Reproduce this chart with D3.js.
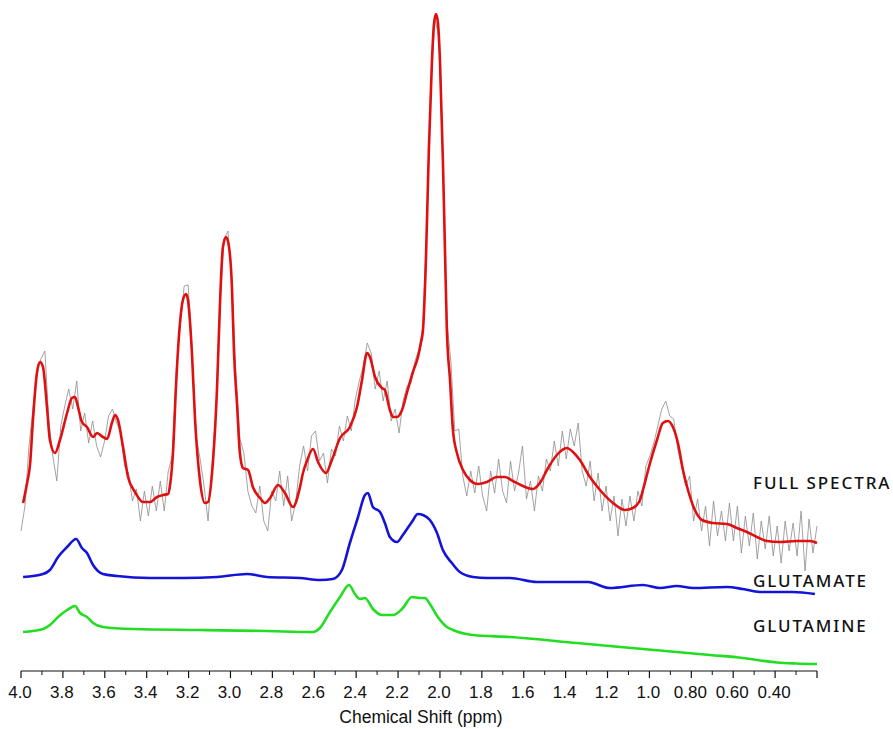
<!DOCTYPE html>
<html>
<head>
<meta charset="utf-8">
<script src="https://cdn.jsdelivr.net/npm/d3@7"></script>
<style>
  body { margin: 0; background: #fff; }
  .tick-label { font-family: "Liberation Sans", Arial, sans-serif; font-size: 17px; fill: #111; }
  .axis-title { font-family: "Liberation Sans", Arial, sans-serif; font-size: 17.5px; fill: #111; }
  .trace-label { font-family: "Noto Sans", sans-serif; font-size: 17px; font-weight: 500; letter-spacing: 1.9px; fill: #111; }
</style>
</head>
<body>
<div id="chart"></div>
<script>
// chemical shift axis
var majorTicks = [4.0, 3.8, 3.6, 3.4, 3.2, 3.0, 2.8, 2.6, 2.4, 2.2, 2.0, 1.8, 1.6, 1.4, 1.2, 1.0, 0.8, 0.6, 0.4, 0.2];
var majorLabels = ["4.0", "3.8", "3.6", "3.4", "3.2", "3.0", "2.8", "2.6", "2.4", "2.2", "2.0", "1.8", "1.6", "1.4", "1.2", "1.0", "0.80", "0.60", "0.40", ""];
var minorTicks = [3.9, 3.7, 3.5, 3.3, 3.1, 2.9, 2.7, 2.5, 2.3, 2.1, 1.9, 1.7, 1.5, 1.3, 1.1, 0.9, 0.7, 0.5, 0.3];

// fitted full spectrum [ppm, intensity]
var fullFit = [
  [3.990, 168], [3.971, 188], [3.957, 206], [3.943, 251], [3.924, 298], [3.909, 309], [3.895, 304],
  [3.876, 264], [3.862, 231], [3.838, 218], [3.814, 231], [3.780, 258], [3.757, 273], [3.742, 274],
  [3.728, 264], [3.709, 249], [3.685, 244], [3.656, 234], [3.637, 238], [3.609, 234], [3.589, 232],
  [3.566, 248], [3.551, 256], [3.537, 251], [3.513, 224], [3.489, 194], [3.456, 179], [3.418, 169],
  [3.384, 169], [3.351, 174], [3.322, 176], [3.298, 177], [3.289, 185], [3.274, 220], [3.260, 285],
  [3.246, 335], [3.227, 371], [3.212, 377], [3.203, 371], [3.184, 318], [3.169, 251], [3.146, 191],
  [3.122, 168], [3.107, 169], [3.088, 198], [3.064, 284], [3.050, 368], [3.036, 424], [3.021, 434],
  [3.007, 424], [2.993, 384], [2.983, 318], [2.969, 268], [2.955, 218], [2.940, 203], [2.916, 201],
  [2.893, 184], [2.859, 173], [2.835, 168], [2.811, 173], [2.773, 186], [2.740, 178], [2.702, 164],
  [2.668, 184], [2.654, 198], [2.635, 210], [2.606, 222], [2.582, 209], [2.544, 198], [2.516, 211],
  [2.477, 233], [2.430, 244], [2.396, 264], [2.372, 291], [2.348, 318], [2.334, 314], [2.310, 294],
  [2.277, 283], [2.263, 281], [2.239, 261], [2.224, 254], [2.205, 254], [2.181, 261], [2.158, 278],
  [2.129, 299], [2.105, 314], [2.091, 328], [2.081, 341], [2.067, 411], [2.053, 521], [2.038, 611],
  [2.029, 646], [2.019, 657], [2.010, 649], [2.000, 611], [1.986, 511], [1.976, 421], [1.967, 341],
  [1.952, 291], [1.938, 241], [1.919, 218], [1.890, 201], [1.857, 191], [1.819, 187], [1.776, 189],
  [1.728, 194], [1.690, 194], [1.652, 190], [1.604, 185], [1.556, 182], [1.523, 188], [1.484, 203],
  [1.442, 216], [1.394, 223], [1.365, 219], [1.332, 211], [1.284, 194], [1.236, 181], [1.174, 168],
  [1.117, 161], [1.079, 163], [1.045, 171], [1.031, 181], [0.997, 208], [0.964, 231], [0.936, 248],
  [0.912, 250], [0.888, 244], [0.864, 228], [0.840, 201], [0.816, 181], [0.783, 161], [0.749, 151],
  [0.697, 148], [0.630, 147], [0.582, 143], [0.535, 139], [0.487, 134], [0.439, 130], [0.377, 129],
  [0.296, 130], [0.234, 130], [0.200, 128]
];

// raw spectrum, sampled from 4.00 ppm in steps of 0.019 ppm
var rawStart = 4.0, rawStep = 0.019;
var rawSpectrum = [
  140, 165, 225, 262, 300, 312, 320, 250, 215, 190, 245, 265, 282, 262, 290, 240, 258, 228, 250, 225,
  214, 230, 255, 262, 248, 240, 205, 198, 170, 182, 150, 180, 155, 185, 160, 190, 160, 200, 215, 300,
  345, 385, 386, 320, 235, 212, 185, 150, 205, 262, 365, 432, 440, 388, 295, 232, 218, 180, 165, 158,
  185, 150, 140, 180, 170, 200, 165, 195, 150, 168, 205, 225, 200, 235, 240, 210, 218, 188, 222, 215,
  245, 230, 255, 240, 272, 290, 305, 328, 318, 282, 300, 270, 290, 250, 262, 238, 270, 285, 288, 310,
  322, 345, 450, 582, 652, 634, 514, 350, 310, 240, 242, 195, 175, 200, 178, 205, 175, 160, 200, 178,
  212, 180, 168, 210, 180, 198, 225, 172, 190, 160, 195, 180, 212, 200, 230, 205, 240, 212, 242, 225,
  248, 200, 185, 210, 170, 198, 160, 185, 150, 175, 135, 172, 145, 175, 150, 180, 165, 205, 215, 228,
  245, 262, 270, 255, 252, 222, 205, 185, 195, 150, 172, 140, 165, 125, 170, 135, 160, 130, 168, 130,
  165, 118, 155, 125, 158, 112, 150, 122, 155, 115, 145, 108, 150, 120, 148, 115, 160, 100, 152, 118,
  145
];

// glutamate component [ppm, intensity]
var glutamate = [
  [3.990, 94], [3.895, 97], [3.862, 101], [3.823, 114], [3.780, 124], [3.737, 132], [3.709, 123],
  [3.685, 118], [3.656, 106], [3.609, 97], [3.542, 95], [3.384, 93], [3.227, 93], [3.064, 94],
  [2.921, 97], [2.826, 94], [2.668, 93], [2.573, 91], [2.511, 92], [2.468, 101], [2.430, 128],
  [2.391, 154], [2.358, 176], [2.344, 178], [2.320, 164], [2.286, 159], [2.263, 148], [2.239, 134],
  [2.205, 129], [2.177, 136], [2.134, 149], [2.105, 157], [2.081, 156], [2.048, 151], [2.014, 138],
  [1.986, 121], [1.943, 108], [1.905, 99], [1.842, 94], [1.776, 93], [1.666, 93], [1.537, 89],
  [1.290, 89], [1.270, 88], [1.189, 83], [1.031, 86], [0.950, 83], [0.869, 85], [0.792, 83],
  [0.630, 84], [0.554, 82], [0.473, 79], [0.315, 79], [0.210, 77]
];

// glutamine component [ppm, intensity]
var glutamine = [
  [3.990, 39], [3.895, 42], [3.862, 46], [3.823, 54], [3.780, 61], [3.742, 65], [3.718, 58],
  [3.685, 54], [3.656, 48], [3.609, 44], [3.465, 42], [3.146, 41], [2.826, 40], [2.606, 39],
  [2.573, 43], [2.525, 59], [2.477, 74], [2.434, 86], [2.406, 77], [2.382, 72], [2.358, 73],
  [2.320, 62], [2.277, 56], [2.224, 56], [2.177, 63], [2.134, 74], [2.096, 73], [2.072, 73],
  [2.048, 67], [2.010, 54], [1.967, 44], [1.938, 41], [1.842, 36], [1.666, 34], [1.346, 28],
  [1.031, 22], [0.711, 16], [0.554, 13], [0.470, 10.5], [0.391, 8.5], [0.300, 7.5], [0.200, 7]
];

var traceNames = ["FULL SPECTRA", "GLUTAMATE", "GLUTAMINE"];
var traceLabelLevel = [182, 84, 39];

var width = 893, height = 729;

var svg = d3.select("#chart").append("svg")
    .attr("width", width)
    .attr("height", height);

var x = d3.scaleLinear().domain([4.0, 0.2]).range([21, 817]);
var y = d3.scaleLinear().domain([0, 660]).range([671, 11]);

var line = d3.line()
    .x(function(d) { return x(d[0]); })
    .y(function(d) { return y(d[1]); })
    .curve(d3.curveMonotoneX);

var rawLine = d3.line()
    .x(function(d, i) { return x(rawStart - rawStep * i); })
    .y(function(d) { return y(d); });

svg.append("path")
    .datum(rawSpectrum)
    .attr("d", rawLine)
    .attr("fill", "none")
    .attr("stroke", "#8c8c8c")
    .attr("stroke-width", 0.8);

svg.append("path")
    .datum(fullFit)
    .attr("d", line)
    .attr("fill", "none")
    .attr("stroke", "#e01010")
    .attr("stroke-width", 2.6);

svg.append("path")
    .datum(glutamate)
    .attr("d", line)
    .attr("fill", "none")
    .attr("stroke", "#1414d8")
    .attr("stroke-width", 2.6);

svg.append("path")
    .datum(glutamine)
    .attr("d", line)
    .attr("fill", "none")
    .attr("stroke", "#22dd22")
    .attr("stroke-width", 2.6);

// trace labels
svg.selectAll(".trace-label")
    .data(traceNames)
    .enter()
    .append("text")
    .attr("class", "trace-label")
    .attr("x", 753)
    .attr("y", function(d, i) { return y(traceLabelLevel[i]); })
    .text(function(d) { return d; });

// axis
var axis = svg.append("g").attr("transform", "translate(0,671)");

axis.append("line")
    .attr("x1", x(4.0)).attr("x2", x(0.2))
    .attr("stroke", "#111").attr("stroke-width", 1.2);

axis.selectAll(".major")
    .data(majorTicks)
    .enter()
    .append("line")
    .attr("x1", function(d) { return x(d); })
    .attr("x2", function(d) { return x(d); })
    .attr("y1", 0).attr("y2", 7)
    .attr("stroke", "#111").attr("stroke-width", 1.2);

axis.selectAll(".minor")
    .data(minorTicks)
    .enter()
    .append("line")
    .attr("x1", function(d) { return x(d); })
    .attr("x2", function(d) { return x(d); })
    .attr("y1", 0).attr("y2", 4)
    .attr("stroke", "#111").attr("stroke-width", 1);

axis.selectAll(".tick-label")
    .data(majorTicks)
    .enter()
    .append("text")
    .attr("class", "tick-label")
    .attr("x", function(d) { return x(d) - 1; })
    .attr("y", 27)
    .attr("text-anchor", "middle")
    .text(function(d, i) { return majorLabels[i]; });

svg.append("text")
    .attr("class", "axis-title")
    .attr("x", 421)
    .attr("y", 723)
    .attr("text-anchor", "middle")
    .text("Chemical Shift (ppm)");
</script>
</body>
</html>
